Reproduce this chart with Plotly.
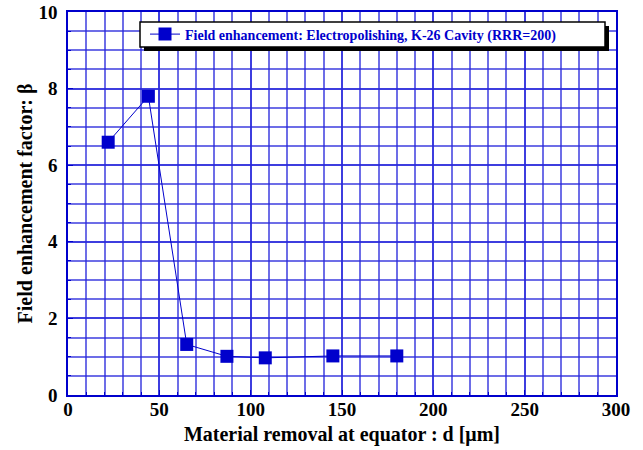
import plotly.graph_objects as go

# Data
removal_um = [22, 44, 65, 87, 108, 145, 180]
beta = [6.6, 7.8, 1.32, 1.01, 0.97, 1.02, 1.02]
series_name = "Field enhancement: Electropolishing, K-26 Cavity (RRR=200)"
x_ticks = [0, 50, 100, 150, 200, 250, 300]
y_ticks = [0, 2, 4, 6, 8, 10]

blue = "#0000cc"
grid = "rgba(40,40,220,0.68)"
font = "Liberation Serif"

W, H = 643, 450
ML, MT, MR, MB = 68, 12, 27, 55
PW, PH = W - ML - MR, H - MT - MB


def px_x(page_x):
    return (page_x - ML) / PW


def px_y(page_y):
    return 1 - (page_y - MT) / PH


fig = go.Figure()
fig.add_trace(go.Scatter(
    x=removal_um, y=beta, mode="lines+markers", name=series_name,
    line=dict(color=blue, width=1),
    marker=dict(symbol="square", size=13, color=blue),
))

axis_common = dict(
    showgrid=True, gridcolor=grid, gridwidth=2,
    showline=True, linecolor=blue, linewidth=1.5, mirror=True,
    ticks="inside", ticklen=5, tickcolor=blue,
    zeroline=False, automargin=False, ticklabeloverflow="allow",
    tickfont=dict(family=font, size=19, color="black", weight="bold"),
)

fig.update_xaxes(
    range=[0, 300], tickvals=x_ticks,
    minor=dict(dtick=10, showgrid=True, gridcolor=grid, gridwidth=2, ticks="inside", ticklen=3, tickcolor=blue),
    title=dict(text="<b>Material removal at equator : d [μm]</b>", font=dict(family=font, size=20, color="black"), standoff=8),
    ticklabelstandoff=-4,
    **axis_common,
)
fig.update_yaxes(
    range=[0, 10], tickvals=y_ticks,
    minor=dict(dtick=0.5, showgrid=True, gridcolor=grid, gridwidth=2, ticks="inside", ticklen=3, tickcolor=blue),
    title=dict(text="<b>Field enhancement factor: β</b>", font=dict(family=font, size=20, color="black"), standoff=0),
    ticklabelstandoff=5,
    **axis_common,
)

# legend box with drop shadow
fig.add_shape(type="rect", xref="paper", yref="paper",
              x0=px_x(144), x1=px_x(609), y0=px_y(51), y1=px_y(26),
              fillcolor="black", line=dict(width=0), layer="above")
fig.add_shape(type="rect", xref="paper", yref="paper",
              x0=px_x(140), x1=px_x(605), y0=px_y(47), y1=px_y(22),
              fillcolor="white", line=dict(width=1.5, color="black"), layer="above")

fig.update_layout(
    width=W, height=H,
    margin=dict(l=ML, r=MR, t=MT, b=MB, autoexpand=False),
    plot_bgcolor="white", paper_bgcolor="white",
    showlegend=True,
    legend=dict(
        x=px_x(145), y=px_y(34.5), xanchor="left", yanchor="middle",
        bgcolor="rgba(0,0,0,0)", borderwidth=0,
        font=dict(family=font, size=14, color=blue, weight="bold"),
        itemwidth=30, tracegroupgap=0,
    ),
)

fig.write_html("out.html", config={"displayModeBar": False},
               post_script="document.body.style.margin='0';")
